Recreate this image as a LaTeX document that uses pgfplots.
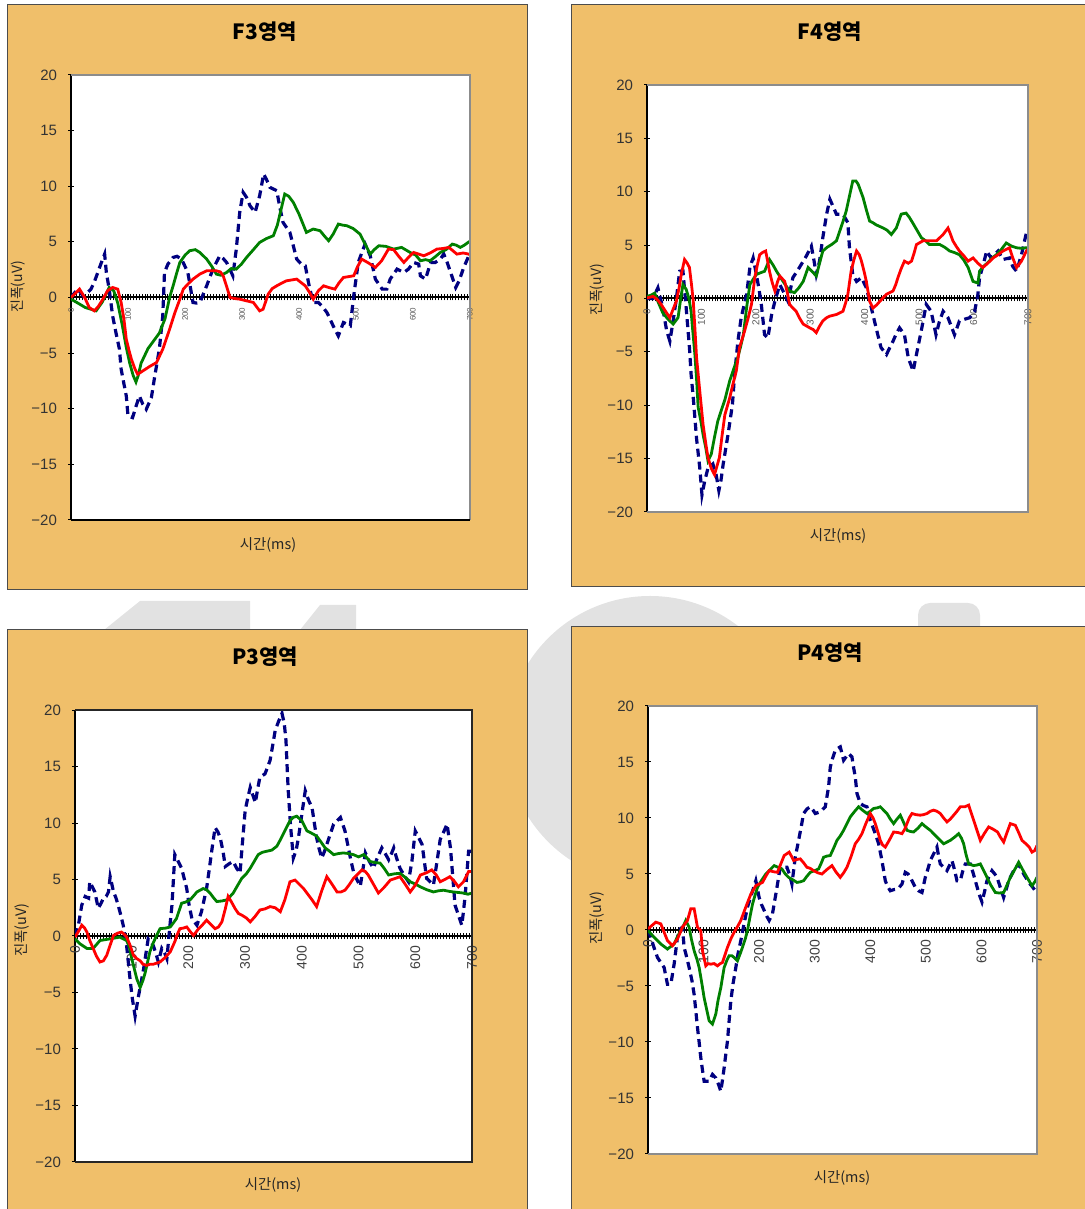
\documentclass[border=0pt]{standalone}
\usepackage{fontspec}
\setmainfont{Liberation Sans}
\newfontfamily\kr{Noto Sans CJK KR}
\usepackage{pgfplots}
\pgfplotsset{compat=1.18}
\definecolor{bgor}{RGB}{240,191,106}
\definecolor{navyc}{RGB}{0,0,128}
\definecolor{grn}{RGB}{0,128,0}
\definecolor{wm}{RGB}{226,226,226}
\pgfplotsset{
  eeg/.style={
    scale only axis,
    xmin=0,xmax=700,ymin=-20,ymax=20,
    axis x line=middle, axis y line=left,
    axis line style={-},
    x axis line style={line width=1pt,black},
    y axis line style={line width=0.8pt,black},
    axis background/.style={fill=white},
    xtick={0,100,...,700},
    minor xtick={0,5,...,700},
    ytick={-20,-15,...,20},
    yticklabels={−20,−15,−10,−5,0,5,10,15,20},
    tick align=center,
    major tick length=3pt, minor tick length=3pt,
    tick style={black, line width=0.5pt},
    yticklabel style={font=\fontsize{7.5}{8}\selectfont, text=black!80, xshift=-2pt},
    xticklabel style={rotate=90, anchor=east, text=black!65},
    /pgf/number format/assume math mode=true,
    hide obscured x ticks=false,
    clip mode=individual,
  },
  bl/.style={navyc, line width=1.6pt, dash pattern=on 4pt off 2.5pt},
  gr/.style={grn, line width=1.4pt},
  rd/.style={red, line width=1.4pt},
}
\begin{document}
\begin{tikzpicture}
\useasboundingbox (0,0) rectangle (542.5pt,604.5pt);
% watermark
\fill[wm] (325pt,234.5pt) circle (72pt);
\fill[wm] (52pt,289.5pt) -- (70pt,304pt) -- (125pt,304pt) -- (125pt,289.5pt) -- cycle;
\fill[wm] (150pt,289.5pt) -- (160pt,302pt) -- (178pt,302pt) -- (178pt,289.5pt) -- cycle;
\fill[wm, rounded corners=6pt] (459pt,280pt) rectangle (490pt,303pt);
% orange boxes
\filldraw[fill=bgor, draw=black!70, line width=0.5pt] (3.5pt,309.5pt) rectangle (263.5pt,602pt);
\filldraw[fill=bgor, draw=black!70, line width=0.5pt] (285.5pt,311pt) rectangle (543pt,602pt);
\filldraw[fill=bgor, draw=black!70, line width=0.5pt] (3.5pt,-1pt) rectangle (263.5pt,289.5pt);
\filldraw[fill=bgor, draw=black!70, line width=0.5pt] (285.5pt,-1pt) rectangle (543pt,291pt);
% titles and labels
\node[font=\kr\bfseries\fontsize{10.5}{12}\selectfont] at (132.5pt,588.5pt) {F3영역};
\node[font=\kr\bfseries\fontsize{10.5}{12}\selectfont] at (415pt,588.5pt) {F4영역};
\node[font=\kr\bfseries\fontsize{10.5}{12}\selectfont] at (132.5pt,276pt) {P3영역};
\node[font=\kr\bfseries\fontsize{10.5}{12}\selectfont] at (415pt,278pt) {P4영역};
\node[font=\kr\fontsize{7.2}{8}\selectfont, text=black!85] at (134pt,332pt) {시간(ms)};
\node[font=\kr\fontsize{7.2}{8}\selectfont, text=black!85] at (419pt,336.5pt) {시간(ms)};
\node[font=\kr\fontsize{7.2}{8}\selectfont, text=black!85] at (136.5pt,12pt) {시간(ms)};
\node[font=\kr\fontsize{7.2}{8}\selectfont, text=black!85] at (421pt,15.5pt) {시간(ms)};
\node[rotate=90, font=\kr\fontsize{7}{8}\selectfont, text=black!85] at (9pt,461pt) {진폭(uV)};
\node[rotate=90, font=\kr\fontsize{7}{8}\selectfont, text=black!85] at (298.5pt,459.5pt) {진폭(uV)};
\node[rotate=90, font=\kr\fontsize{7.2}{8}\selectfont, text=black!85] at (11pt,139.5pt) {진폭(uV)};
\node[rotate=90, font=\kr\fontsize{7.2}{8}\selectfont, text=black!85] at (298.5pt,145.5pt) {진폭(uV)};

% ---------- F3 ----------
\begin{axis}[eeg, at={(35.5pt,344.5pt)}, anchor=south west, width=199.5pt, height=222.5pt,
  xticklabel style={font=\fontsize{4}{5}\selectfont}]
\addplot[bl] coordinates {(0,0)(6,0.4)(12,0.75)(21,0.15)(28,0.4)(35,0.75)(41,1.4)(47,2.25)(53,3.1)(59,3.9)(62,2.25)(67,0.75)(73,-1.65)(79,-3.2)(85,-4.65)(88,-6.45)(93,-7.8)(97,-8.85)(100,-10.65)(108,-10.8)(114,-9.8)(120,-8.85)(126,-9.6)(132,-10.05)(141,-9.0)(147,-7.05)(155,-4.65)(161,-1.65)(164,2.25)(170,3.0)(179,3.6)(186,3.7)(194,3.45)(205,2.25)(214,-0.45)(220,-0.5)(226,-0.45)(238,1.05)(249,2.55)(261,3.75)(267,3.5)(273,3.15)(284,1.95)(290,4.35)(296,7.65)(302,9.45)(308,9.0)(314,8.25)(323,7.65)(331,9.15)(338,11.1)(343,10.6)(349,9.9)(361,9.6)(366,8.2)(372,6.75)(384,5.85)(396,3.45)(404,3.0)(411,2.85)(418,1.0)(425,-0.45)(434,-0.45)(441,-0.8)(449,-1.35)(455,-2.0)(460,-2.55)(469,-3.45)(478,-2.25)(490,-2.55)(496,0.15)(504,3.15)(510,4.0)(516,4.8)(525,3.75)(534,1.65)(546,0.75)(554,0.75)(560,1.65)(566,2.1)(572,2.55)(584,2.25)(592,2.55)(601,3.15)(610,3.0)(613,1.95)(622,1.65)(631,3.15)(639,3.15)(648,3.45)(654,3.9)(660,3.15)(666,2.25)(675,0.9)(681,1.5)(689,2.7)(698,3.75)(700,3.8)};
\addplot[gr] coordinates {(0,-0.15)(12,-0.5)(25,-0.9)(44,-1.2)(55,-0.4)(67,0.9)(75,0.6)(82,-0.5)(90,-2.5)(97,-4.5)(103,-5.9)(109,-7.0)(114,-7.6)(118,-7.0)(123,-5.9)(135,-4.6)(145,-3.9)(155,-3.2)(165,-1.9)(173,0)(180,1.2)(186,2.3)(191,3.15)(200,3.8)(208,4.2)(218,4.3)(226,4.05)(238,3.45)(247,2.8)(255,2.1)(263,2.0)(273,2.25)(281,2.6)(290,2.55)(299,3.0)(308,3.6)(320,4.3)(331,4.95)(343,5.3)(355,5.55)(362,6.5)(368,7.8)(375,9.3)(382,9.1)(390,8.55)(400,7.5)(413,5.85)(425,6.15)(437,6.0)(445,5.5)(452,5.1)(460,5.7)(469,6.6)(477,6.5)(484,6.45)(495,6.2)(507,5.7)(516,4.8)(525,3.9)(532,4.3)(540,4.65)(552,4.6)(566,4.35)(580,4.5)(595,4.05)(605,3.8)(613,3.3)(622,3.4)(630,3.3)(640,3.7)(648,4.05)(658,4.3)(669,4.8)(676,4.7)(683,4.5)(690,4.7)(698,5.0)(700,5.0)};
\addplot[rd] coordinates {(0,0)(8,0.4)(15,0.75)(24,0)(32,-0.9)(41,-1.2)(48,-0.8)(56,-0.15)(64,0.6)(73,0.9)(82,0.75)(88,-0.45)(93,-2.0)(97,-3.75)(102,-4.8)(106,-5.55)(112,-6.4)(117,-6.9)(126,-6.6)(138,-6.2)(150,-5.85)(161,-4.65)(173,-2.85)(182,-1.4)(191,-0.15)(197,0.75)(205,1.2)(214,1.65)(226,2.1)(238,2.4)(255,2.4)(262,2.3)(267,1.95)(273,1.0)(279,0)(288,-0.1)(296,-0.15)(308,-0.3)(320,-0.45)(331,-1.2)(337,-1.05)(346,0.3)(353,0.8)(361,1.05)(370,1.3)(378,1.5)(396,1.65)(411,1.05)(418,0.5)(425,-0.15)(434,0.6)(443,1.05)(452,0.9)(463,0.75)(470,1.3)(478,1.8)(496,1.95)(503,2.8)(510,3.45)(522,3.1)(534,2.7)(545,3.3)(557,4.35)(566,4.3)(575,3.7)(584,3.15)(592,3.6)(601,4.05)(610,3.9)(619,3.75)(630,4.0)(642,4.35)(652,4.4)(663,4.5)(670,4.2)(677,3.9)(688,4.0)(698,3.9)(700,3.8)};
\draw[black!45, line width=0.9pt] (rel axis cs:0,1) -- (rel axis cs:1,1) -- (rel axis cs:1,0);
\draw[black, line width=0.7pt] (rel axis cs:0,0) -- (rel axis cs:1,0);
\end{axis}

% ---------- F4 ----------
\begin{axis}[eeg, at={(323.5pt,348.5pt)}, anchor=south west, width=190.5pt, height=213.5pt,
  xticklabel style={font=\fontsize{5}{6}\selectfont}]
\addplot[bl] coordinates {(0,0)(11,0)(20,1.0)(29,-0.9)(36,-3.0)(42,-4.0)(48,-2.1)(54,0)(60,2.55)(66,2.6)(72,-0.9)(78,-4.6)(81,-7.1)(85,-9.3)(91,-13.1)(97,-15.9)(101,-18.4)(106,-17.1)(112,-15.9)(121,-15.5)(127,-16.5)(132,-18.0)(136,-17.0)(140,-15.5)(149,-12.7)(157,-9.9)(161,-7.1)(167,-4.0)(173,-1.8)(183,0.4)(189,2.9)(195,3.8)(201,2.25)(206,0.8)(210,-0.55)(216,-3.4)(222,-3.7)(229,-1.5)(235,-0.25)(244,1.3)(253,0.4)(259,-0.25)(268,1.95)(280,2.9)(293,4.0)(302,4.9)(307,3.5)(311,2.25)(317,3.5)(323,5.7)(330,7.9)(336,9.3)(342,8.6)(348,7.9)(360,7.9)(369,7.1)(372,4.75)(378,2.25)(385,1.6)(394,1.95)(403,1.0)(409,-0.2)(415,-1.5)(424,-3.4)(430,-4.6)(440,-5.25)(446,-4.6)(452,-4.0)(458,-3.3)(464,-2.75)(473,-3.4)(480,-5.55)(489,-6.8)(495,-5.25)(504,-3.0)(513,-0.55)(522,-1.2)(531,-3.4)(537,-2.2)(544,-1.2)(553,-1.8)(565,-3.4)(574,-2.1)(583,-1.95)(593,-1.8)(602,-1.2)(608,0.4)(611,1.95)(618,3.2)(624,4.45)(632,3.8)(645,4.45)(654,3.65)(666,3.8)(672,3.0)(679,2.55)(688,4.1)(697,6.15)(700,6.3)};
\addplot[gr] coordinates {(0,0.2)(7,0.3)(14,0.5)(21,-0.4)(29,-1.35)(38,-1.9)(48,-2.4)(57,-1.8)(62,0)(66,1.3)(72,0.85)(77,0)(81,-1.2)(84,-3.0)(88,-5.25)(91,-7.5)(94,-10.2)(99,-11.5)(103,-12.75)(108,-14.0)(112,-15.2)(118,-14.6)(124,-13.0)(130,-11.5)(137,-10.4)(143,-9.5)(152,-7.7)(160,-6.5)(167,-5.5)(172,-4.5)(177,-3.4)(183,-0.85)(189,1.3)(195,1.8)(201,2.25)(208,2.4)(216,2.55)(225,3.65)(232,3.1)(238,2.55)(250,1.6)(262,0.7)(271,0.55)(279,1.0)(287,1.6)(296,2.9)(304,2.5)(311,2.1)(317,3.3)(323,4.45)(331,4.8)(339,5.05)(348,5.4)(354,6.3)(360,7.2)(366,8.2)(372,9.6)(378,11.0)(384,11.0)(388,10.7)(397,9.45)(403,8.3)(409,7.25)(415,7.1)(421,6.9)(434,6.6)(441,6.4)(449,6.0)(458,6.6)(467,7.9)(476,8.0)(482,7.6)(488,7.1)(496,6.4)(504,5.7)(512,5.4)(519,5.05)(538,5.05)(547,4.8)(556,4.45)(565,4.3)(574,4.1)(582,3.6)(590,2.9)(599,1.6)(608,1.45)(611,2.55)(618,3.0)(626,3.35)(634,3.8)(642,4.1)(651,4.6)(660,5.2)(670,4.9)(679,4.75)(688,4.7)(697,4.75)(700,4.6)};
\addplot[rd] coordinates {(0,0.05)(11,0.2)(19,-0.1)(26,-0.55)(34,-1.2)(42,-1.8)(48,-1.0)(54,-0.25)(59,1.0)(63,2.25)(69,3.65)(74,3.3)(78,2.9)(82,1.2)(85,-0.25)(88,-2.8)(91,-5.5)(97,-8.7)(103,-11.8)(108,-13.6)(112,-14.9)(118,-15.9)(124,-16.5)(128,-15.8)(133,-14.9)(138,-12.8)(143,-10.9)(152,-9.3)(158,-8.0)(164,-6.8)(170,-4.6)(179,-3.1)(186,-1.8)(192,-0.55)(198,1.95)(203,3.2)(207,4.1)(212,4.3)(218,4.45)(222,3.4)(225,2.55)(230,1.5)(235,0.7)(240,1.6)(244,2.1)(253,1.6)(258,0.5)(262,-0.55)(268,-0.9)(274,-1.2)(281,-1.9)(287,-2.4)(299,-2.75)(305,-2.9)(311,-3.2)(317,-2.6)(323,-2.1)(330,-1.8)(336,-1.65)(348,-1.5)(360,-1.2)(365,-0.4)(369,0.4)(375,2.55)(380,3.6)(385,4.45)(390,4.1)(394,3.5)(399,2.5)(403,1.6)(409,-0.25)(415,-0.9)(422,-0.6)(428,-0.25)(440,0.4)(452,0.7)(457,1.3)(461,1.95)(467,2.8)(473,3.5)(480,3.3)(486,3.5)(491,4.3)(495,5.05)(507,5.4)(519,5.4)(532,5.4)(538,5.7)(544,6.0)(553,6.6)(557,6.1)(562,5.4)(568,4.9)(574,4.45)(582,4.0)(590,3.5)(599,3.8)(608,3.3)(617,2.9)(626,3.3)(636,3.8)(645,4.1)(654,4.45)(666,4.75)(672,3.8)(679,2.9)(688,3.5)(697,4.45)(700,4.6)};
\draw[black!45, line width=0.9pt] (rel axis cs:0,1) -- (rel axis cs:1,1) -- (rel axis cs:1,0) -- (rel axis cs:0,0);
\end{axis}

% ---------- P3 ----------
\begin{axis}[eeg, at={(37.5pt,23.5pt)}, anchor=south west, width=198.5pt, height=226pt,
  xticklabel style={font=\fontsize{7}{8}\selectfont, text=black!75}]
\addplot[bl] coordinates {(0,0)(6,0.95)(12,2.75)(18,3.5)(24,3.35)(26,4.8)(30,4.4)(35,3.9)(41,2.45)(46,2.9)(50,3.35)(55,3.5)(59,3.9)(62,5.25)(68,3.9)(72,3.4)(76,2.75)(81,1.8)(85,0.95)(91,-0.85)(97,-3.8)(101,-5.5)(106,-7.1)(112,-5.3)(117,-4.0)(121,-2.9)(129,-0.25)(134,-0.5)(138,-0.85)(143,-1.6)(147,-2.3)(153,-1.1)(158,-1.5)(162,-2.0)(168,1.25)(171,2.75)(176,7.2)(182,6.6)(188,6.0)(192,5.2)(197,4.2)(201,2.8)(206,1.55)(215,0.95)(223,2.15)(232,4.2)(237,6.0)(241,7.5)(247,9.6)(252,9.2)(256,8.7)(261,7.5)(265,6.15)(272,6.4)(279,6.6)(285,6.0)(291,5.55)(294,7.5)(300,11.1)(305,12.3)(309,13.15)(314,12.4)(318,11.8)(322,13.0)(326,14.05)(335,14.35)(340,15.0)(344,15.55)(349,17.0)(353,18.2)(359,19.0)(365,19.7)(369,18.8)(372,17.3)(374,15.0)(376,12.85)(380,9.8)(385,6.9)(390,7.6)(394,8.7)(400,10.8)(406,12.85)(412,12.0)(418,11.35)(422,10.0)(426,8.7)(430,7.8)(435,6.9)(440,7.5)(444,8.1)(450,9.0)(456,9.9)(462,10.2)(468,10.5)(472,9.9)(476,9.3)(482,7.8)(486,6.8)(491,5.7)(497,5.0)(503,4.4)(508,6.0)(512,7.35)(519,6.6)(526,6.0)(533,6.9)(541,7.8)(547,7.3)(553,6.75)(558,7.3)(562,7.8)(567,6.9)(573,6.0)(580,5.4)(588,4.8)(594,6.6)(600,9.3)(606,8.7)(612,8.1)(616,6.6)(620,5.1)(626,4.8)(632,4.5)(638,6.5)(644,8.55)(650,9.2)(656,9.9)(662,7.8)(666,5.3)(670,2.75)(676,1.85)(682,0.95)(685,2.2)(688,3.6)(694,7.5)(700,7.5)};
\addplot[gr] coordinates {(0,-0.25)(9,-0.7)(21,-1.1)(32,-1.1)(44,-0.4)(62,-0.25)(79,-0.1)(91,-0.4)(96,-1.0)(100,-2.0)(105,-3.0)(109,-3.8)(115,-4.55)(120,-3.9)(124,-3.2)(128,-2.3)(132,-1.4)(138,-0.6)(144,0.05)(150,0.65)(160,0.7)(168,0.8)(174,1.2)(179,1.55)(184,2.3)(188,2.9)(195,3.0)(203,3.2)(210,3.6)(215,3.9)(226,4.2)(232,4.1)(238,3.8)(244,3.4)(250,3.05)(259,3.1)(268,3.2)(279,3.8)(287,4.5)(294,5.1)(302,5.5)(309,6.0)(316,6.6)(323,7.2)(330,7.4)(338,7.5)(347,7.6)(356,7.95)(363,8.6)(370,9.3)(379,10.2)(385,10.5)(391,10.6)(400,10.2)(409,9.3)(417,9.1)(426,8.85)(434,8.3)(441,7.8)(449,7.5)(456,7.2)(465,7.3)(473,7.35)(482,7.3)(491,7.2)(500,7.0)(509,7.2)(515,6.9)(520,6.6)(529,6.5)(538,6.45)(545,6.0)(553,5.4)(563,5.5)(573,5.55)(582,5.2)(591,4.8)(600,4.6)(609,4.35)(620,4.1)(632,3.9)(641,4.0)(650,4.05)(660,3.95)(667,3.9)(676,3.85)(685,3.8)(693,3.7)(700,3.8)};
\addplot[rd] coordinates {(0,-0.1)(6,0.4)(12,0.95)(17,0.7)(21,0.35)(26,-0.4)(32,-1.1)(38,-1.8)(44,-2.3)(50,-2.2)(56,-1.7)(62,-0.8)(68,0.05)(75,0.25)(82,0.35)(88,0.1)(91,-0.1)(97,-0.8)(103,-1.7)(109,-2.0)(115,-2.2)(120,-2.5)(126,-2.6)(132,-2.5)(138,-2.5)(144,-2.4)(150,-2.3)(159,-1.9)(168,-1.4)(176,-0.5)(180,0.1)(185,0.65)(191,0.7)(197,0.8)(203,0.4)(209,0.05)(218,0.65)(225,1.0)(232,1.4)(240,1.0)(247,0.65)(253,0.8)(259,1.25)(265,2.4)(270,3.5)(276,3.0)(282,2.45)(288,2.0)(294,1.85)(302,1.6)(309,1.25)(317,1.7)(326,2.3)(335,2.4)(344,2.6)(353,2.5)(362,2.15)(370,3.2)(379,4.8)(388,4.95)(397,4.5)(403,4.2)(409,3.8)(418,3.2)(426,2.6)(435,4.0)(444,5.25)(453,4.6)(462,3.9)(469,3.9)(476,4.05)(483,4.5)(491,5.1)(499,5.5)(506,5.85)(512,5.7)(517,5.4)(526,4.6)(535,3.8)(545,4.3)(556,4.95)(565,5.1)(573,5.25)(582,4.6)(591,3.9)(600,4.5)(609,5.4)(620,5.6)(629,5.85)(637,5.4)(644,4.8)(652,5.0)(661,5.25)(668,4.9)(676,4.35)(685,4.8)(694,5.7)(700,5.7)};
\draw[black!85, line width=0.8pt] (rel axis cs:0,1) -- (rel axis cs:1,1) -- (rel axis cs:1,0) -- (rel axis cs:0,0);
\end{axis}

% ---------- P4 ----------
\begin{axis}[eeg, at={(324pt,27.5pt)}, anchor=south west, width=194.5pt, height=224pt,
  xticklabel style={font=\fontsize{7}{8}\selectfont, text=black!75}]
\addplot[bl] coordinates {(0,0)(5,-0.65)(11,-1.6)(17,-2.45)(23,-2.9)(29,-3.35)(35,-4.85)(41,-4.85)(47,-3.05)(53,-0.65)(58,0.1)(62,0.25)(65,-1.55)(70,-2.5)(74,-3.35)(79,-4.5)(83,-5.75)(86,-7.2)(89,-8.7)(92,-10.0)(95,-11.4)(98,-12.5)(101,-13.5)(106,-13.5)(110,-13.5)(116,-12.9)(122,-13.2)(127,-13.8)(131,-14.4)(134,-13.4)(137,-12.3)(140,-11.1)(143,-9.9)(146,-8.1)(149,-6.35)(153,-4.8)(158,-3.35)(162,-2.1)(167,-0.95)(173,0.6)(179,2.05)(187,3.3)(194,4.4)(200,2.9)(204,2.3)(209,1.75)(214,1.2)(218,0.85)(224,1.45)(230,3.2)(234,4.4)(238,5.6)(244,5.6)(250,5.6)(255,4.9)(259,4.1)(265,6.5)(271,8.0)(276,9.3)(280,10.4)(286,10.8)(292,11.0)(297,10.7)(301,10.4)(307,10.5)(313,10.7)(319,11.0)(325,12.8)(328,14.55)(332,15.3)(337,16.05)(341,16.2)(346,16.35)(352,15.15)(357,15.5)(361,15.75)(367,15.45)(370,14.5)(373,13.65)(376,12.2)(382,11.3)(388,11.1)(394,11.0)(400,9.8)(409,8.6)(415,7.7)(421,6.2)(427,4.4)(431,3.9)(436,3.5)(442,3.6)(448,3.65)(452,3.8)(457,4.1)(463,5.15)(468,5.0)(472,4.7)(477,4.2)(481,3.8)(487,3.5)(493,3.35)(499,4.7)(504,5.5)(508,6.2)(514,6.8)(520,7.4)(523,6.6)(526,5.9)(532,5.6)(538,5.3)(543,5.8)(547,6.2)(552,5.3)(556,4.4)(562,4.4)(566,5.2)(571,5.9)(575,5.9)(580,5.9)(585,5.1)(589,4.4)(595,3.35)(598,2.9)(601,2.5)(606,3.5)(610,4.4)(615,4.9)(619,5.3)(624,5.0)(628,4.7)(634,3.8)(640,2.9)(645,3.7)(649,4.4)(654,4.9)(658,5.3)(663,5.6)(667,5.9)(672,5.4)(676,5.0)(681,4.6)(685,4.25)(691,3.9)(697,3.5)(700,3.4)};
\addplot[gr] coordinates {(0,-0.05)(11,-0.65)(23,-1.25)(35,-1.7)(47,-1.25)(53,-0.6)(59,-0.05)(64,0.4)(68,0.85)(74,0.25)(78,-0.8)(83,-1.85)(88,-2.6)(92,-3.35)(97,-4.8)(101,-6.05)(106,-7.2)(110,-8.1)(116,-8.4)(122,-7.5)(126,-6.3)(131,-5.15)(137,-3.35)(142,-2.7)(146,-2.3)(151,-2.3)(155,-2.45)(161,-2.75)(166,-2.1)(170,-1.55)(175,-0.8)(179,-0.05)(184,1.3)(188,2.3)(192,3.0)(197,3.8)(204,4.4)(212,5.0)(220,5.4)(227,5.75)(234,5.6)(241,5.45)(247,5.0)(253,4.7)(260,4.5)(268,4.25)(274,4.3)(280,4.4)(286,4.8)(292,5.15)(300,5.3)(307,5.45)(312,6.0)(316,6.5)(322,6.6)(328,6.65)(334,7.3)(340,8.0)(346,8.4)(352,8.9)(358,9.5)(364,10.1)(372,10.6)(379,11.0)(386,10.7)(394,10.4)(400,10.6)(406,10.85)(412,10.9)(418,11.0)(424,10.7)(430,10.4)(436,9.9)(442,9.5)(448,9.9)(454,10.25)(460,9.6)(466,8.9)(472,8.8)(478,8.75)(486,9.1)(493,9.5)(500,9.2)(508,8.9)(514,8.6)(520,8.3)(526,8.0)(532,7.7)(538,7.85)(544,8.0)(552,8.3)(559,8.6)(564,8.2)(568,7.7)(572,6.8)(577,5.9)(586,5.75)(592,5.8)(598,5.9)(604,5.3)(610,4.7)(617,4.0)(625,3.35)(632,3.3)(640,3.35)(646,4.0)(652,4.7)(660,5.4)(667,6.05)(674,5.4)(682,4.7)(691,3.95)(696,4.3)(700,4.7)};
\addplot[rd] coordinates {(0,0.1)(7,0.4)(14,0.7)(23,0.55)(29,-0.2)(35,-0.95)(44,-1.4)(53,-0.8)(62,0.25)(71,0.85)(77,1.9)(83,1.9)(89,0.25)(95,-0.05)(98,-1.85)(104,-3.2)(108,-3.0)(113,-3.05)(119,-3.0)(125,-3.2)(130,-3.0)(134,-2.9)(138,-2.3)(143,-1.55)(149,-0.8)(155,-0.2)(161,0.3)(167,0.85)(176,2.05)(185,3.2)(194,3.95)(206,4.25)(212,4.8)(218,5.3)(226,5.2)(233,5.15)(239,5.9)(245,6.65)(254,6.95)(258,6.6)(262,6.2)(268,6.3)(274,6.35)(280,6.0)(286,5.6)(292,5.5)(298,5.3)(306,5.1)(313,5.0)(322,5.4)(331,5.75)(338,5.2)(346,4.7)(352,5.1)(358,5.6)(365,6.5)(373,7.7)(379,8.1)(385,8.6)(392,9.5)(400,10.4)(405,10.0)(409,9.5)(414,8.7)(418,8.0)(422,7.6)(427,7.4)(434,8.0)(442,8.75)(450,8.7)(457,8.6)(462,9.0)(466,9.5)(470,10.0)(475,10.4)(482,10.3)(490,10.25)(496,10.3)(502,10.4)(508,10.6)(514,10.7)(520,10.6)(526,10.4)(532,10.0)(538,9.65)(544,9.9)(550,10.25)(556,10.6)(562,11.0)(570,11.0)(577,11.15)(582,10.4)(586,9.8)(592,8.9)(598,8.0)(605,8.6)(613,9.2)(621,9.0)(629,8.75)(634,8.3)(640,7.85)(646,8.7)(652,9.5)(661,9.35)(667,8.7)(673,8.0)(680,7.7)(686,7.4)(691,6.95)(696,7.1)(700,7.55)};
\draw[black!45, line width=0.9pt] (rel axis cs:0,1) -- (rel axis cs:1,1) -- (rel axis cs:1,0) -- (rel axis cs:0,0);
\end{axis}
\end{tikzpicture}
\end{document}
